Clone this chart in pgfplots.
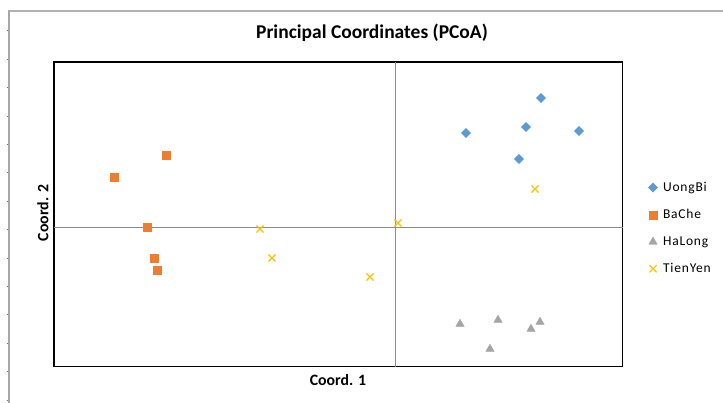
\documentclass[border=0pt]{standalone}
\usepackage{pgfplots}
\pgfplotsset{compat=1.18}
\usepackage{fontspec}
\setmainfont{Carlito}
\newfontfamily\legfont[LetterSpace=6]{Carlito}
\definecolor{cUB}{HTML}{5B9BD5}
\definecolor{cBC}{HTML}{ED7D31}
\definecolor{cHL}{HTML}{A5A5A5}
\definecolor{cTY}{HTML}{FFC000}
\begin{document}
\begin{tikzpicture}[x=1pt,y=1pt]
\useasboundingbox (0,0) rectangle (723,403);
\fill[white] (0,0) rectangle (723,403);
\draw[black!35, line width=1.8pt] (8.8,0) -- (8.8,392.5);
\draw[black!30, line width=1.2pt] (8.8,392) -- (723,392);
\foreach \yy in {3,31.4,59.8,88.2,116.6,145,173.4,201.8,230.2,258.6,287,315.4,343.8,372.2} \draw[black!55, line width=0.8pt] (6.5,\yy) -- (8,\yy);
\begin{axis}[
  at={(54pt,36.3pt)}, anchor=south west,
  scale only axis, width=568.7pt, height=304.7pt,
  xmin=-3.41, xmax=2.277, ymin=-1.387, ymax=1.66,
  xtick=\empty, ytick=\empty,
  extra x ticks={0}, extra y ticks={0},
  extra x tick labels={}, extra y tick labels={},
  extra tick style={grid=major, major tick length=0pt, major grid style={color=black!45, line width=1pt}},
  axis line style={black, line width=1.2pt},
  clip=false,
  legend style={at={(rel axis cs:1.045,0.613)}, anchor=north west, draw=none, fill=none,
    font=\legfont\fontsize{13.5}{15}\selectfont, row sep=12.5pt, inner sep=0pt,
    /tikz/every odd column/.append style={column sep=3.5pt}},
  legend cell align=left,
  legend image code/.code={\draw[#1] plot coordinates {(4pt,0pt)};},
]
\addplot[only marks, mark=square*, mark size=3.2pt, mark options={rotate=45, fill=cUB, draw=cUB}] coordinates {
(0.71,0.95) (1.31,1.01) (1.46,1.30) (1.84,0.97) (1.24,0.69)};
\addlegendentry{UongBi}
\addplot[only marks, mark=square*, mark size=4.1pt, mark options={fill=cBC, draw=cBC}] coordinates {
(-2.29,0.73) (-2.81,0.51) (-2.48,0.01) (-2.41,-0.30) (-2.38,-0.42)};
\addlegendentry{BaChe}
\addplot[only marks, mark=triangle*, mark size=4.8pt, mark options={fill=cHL, draw=cHL}] coordinates {
(0.65,-0.96) (1.03,-0.92) (1.36,-1.01) (1.45,-0.94) (0.95,-1.21)};
\addlegendentry{HaLong}
\addplot[only marks, mark=x, mark size=5pt, mark options={draw=cTY, line width=1.2pt}] coordinates {
(1.40,0.39) (0.03,0.05) (-1.35,-0.01) (-1.23,-0.30) (-0.25,-0.49)};
\addlegendentry{TienYen}
\end{axis}
\node at (372,370) {\bfseries\fontsize{19.5}{23}\selectfont Principal Coordinates (PCoA)};
\node at (338,23) {\bfseries\fontsize{15.8}{19}\selectfont Coord. 1};
\node[rotate=90] at (43,190) {\bfseries\fontsize{15.8}{19}\selectfont Coord. 2};
\end{tikzpicture}
\end{document}
